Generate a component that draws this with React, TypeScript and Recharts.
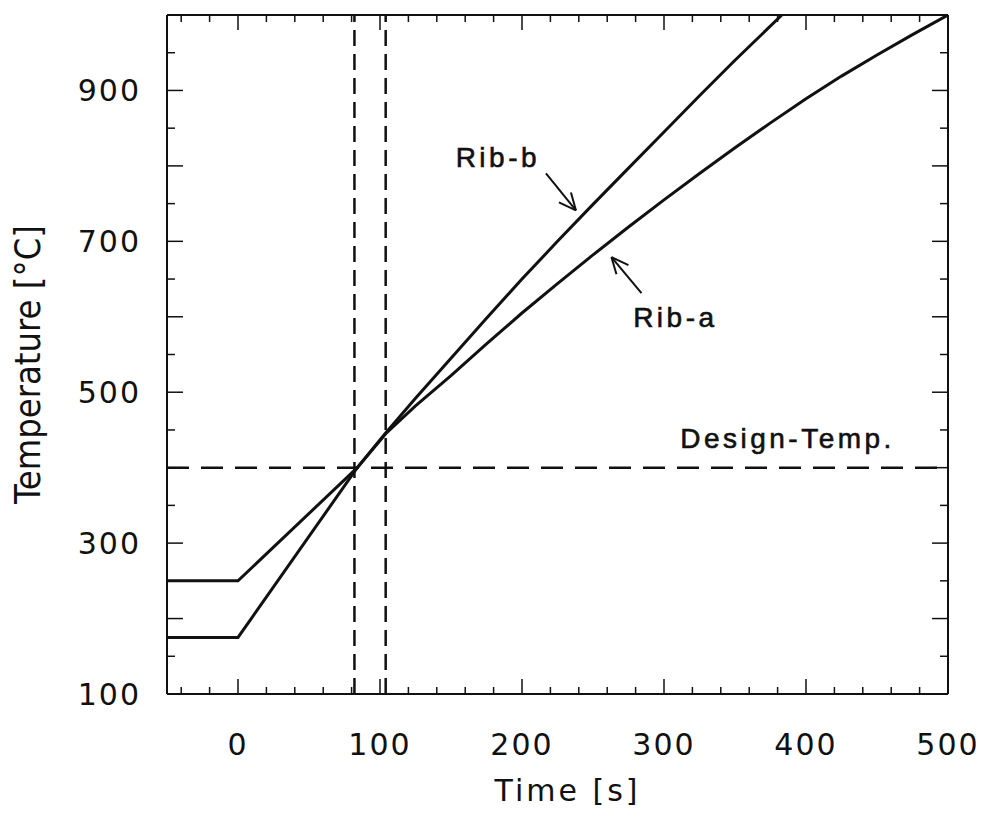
import React from 'react';
import { LineChart, Line, XAxis, YAxis, ReferenceLine, ReferenceDot } from 'recharts';

// ---- data ----
const ribATimes = [-50, 0, 84, 104, 125, 150, 175, 200, 225, 250, 275, 300, 325, 350, 375, 400, 425, 450, 475, 500];
const ribATemps = [250, 250, 400, 445, 482, 522, 564, 605, 644, 682, 719, 755, 790, 824, 857, 889, 919, 947, 974, 1000];
const ribBTimes = [-50, 0, 84, 104, 125, 150, 175, 200, 225, 250, 275, 300, 325, 350, 383];
const ribBTemps = [175, 175, 400, 446, 492, 545, 598, 650, 700, 749, 797, 845, 893, 940, 1000];

const designTemp = 400;
const markerTimes = [82, 104];

const xTicks = [-40, -20, 0, 20, 40, 60, 80, 100, 120, 140, 160, 180, 200, 220, 240, 260, 280, 300, 320, 340, 360, 380, 400, 420, 440, 460, 480, 500];
const xLabelTicks = [0, 100, 200, 300, 400, 500];
const yTicks = [100, 150, 200, 250, 300, 350, 400, 450, 500, 550, 600, 650, 700, 750, 800, 850, 900, 950, 1000];
const yLabelTicks = [100, 300, 500, 700, 900];

const ribA = ribATimes.map((t, i) => ({ t, T: ribATemps[i] }));
const ribB = ribBTimes.map((t, i) => ({ t, T: ribBTemps[i] }));

// annotation anchors (in data units)
const textNotes = [
  { text: 'Rib-b', t: 183, T: 811 },
  { text: 'Rib-a', t: 308, T: 599 },
  { text: 'Design-Temp.', t: 387, T: 439 },
];
const arrowNotes = [
  { t: 238, T: 741, tail: [-30, -37], b1: [-5, -18], b2: [-17, -8] },
  { t: 263, T: 679, tail: [30, 36], b1: [17, 8], b2: [5, 17] },
];

const TICK_FONT = "'DejaVu Sans', sans-serif";
const INK = '#111';

const BottomTick = (props: any) => {
  const { x, y, payload } = props;
  const v = payload.value;
  const major = v % 100 === 0;
  return (
    <g>
      <line x1={x} y1={y} x2={x} y2={y - (major ? 15 : 7)} stroke={INK} strokeWidth={1.5} />
      {xLabelTicks.includes(v) && (
        <text x={x} y={y + 50} textAnchor="middle" dominantBaseline="central" fontFamily={TICK_FONT} fontSize={30} letterSpacing={2} fill={INK}>
          {v}
        </text>
      )}
    </g>
  );
};

const TopTick = (props: any) => {
  const { x, y, payload } = props;
  const major = payload.value % 100 === 0;
  return <line x1={x} y1={y} x2={x} y2={y + (major ? 15 : 7)} stroke={INK} strokeWidth={1.5} />;
};

const LeftTick = (props: any) => {
  const { x, y, payload } = props;
  const v = payload.value;
  const major = v % 100 === 0;
  return (
    <g>
      <line x1={x} y1={y} x2={x + (major ? 16 : 8)} y2={y} stroke={INK} strokeWidth={1.5} />
      {yLabelTicks.includes(v) && (
        <text x={x - 26} y={y} textAnchor="end" dominantBaseline="central" fontFamily={TICK_FONT} fontSize={30} letterSpacing={2} fill={INK}>
          {v}
        </text>
      )}
    </g>
  );
};

const RightTick = (props: any) => {
  const { x, y, payload } = props;
  const major = payload.value % 100 === 0;
  return <line x1={x} y1={y} x2={x - (major ? 16 : 8)} y2={y} stroke={INK} strokeWidth={1.5} />;
};

const XTitle = (props: any) => {
  const vb = props.viewBox || {};
  return (
    <text x={vb.x + vb.width / 2 + 10} y={vb.y + 96} textAnchor="middle" dominantBaseline="central" fontFamily={TICK_FONT} fontSize={30} letterSpacing={3} fill={INK}>
      Time [s]
    </text>
  );
};

const YTitle = (props: any) => {
  const vb = props.viewBox || {};
  const cx = 27;
  const cy = vb.y + vb.height / 2 + 10;
  return (
    <text x={cx} y={cy} transform={`rotate(-90 ${cx} ${cy})`} textAnchor="middle" dominantBaseline="central" fontFamily="'Liberation Sans Narrow', 'DejaVu Sans Condensed', sans-serif" fontSize={36} fill={INK}>
      Temperature [°C]
    </text>
  );
};

export default function App() {
  return (
    <div style={{ position: 'absolute', left: 0, top: 0, background: '#fff' }}>
      <LineChart width={987} height={819} margin={{ top: 0, right: 0, bottom: 0, left: 0 }}>
        <XAxis
          xAxisId="main"
          type="number"
          dataKey="t"
          domain={[-50, 500]}
          ticks={xTicks}
          interval={0}
          allowDataOverflow
          height={125}
          tickSize={0}
          tickMargin={0}
          tickLine={false}
          axisLine={{ stroke: INK, strokeWidth: 2 }}
          tick={<BottomTick />}
          label={<XTitle />}
        />
        <XAxis
          xAxisId="top"
          orientation="top"
          type="number"
          dataKey="t"
          domain={[-50, 500]}
          ticks={xTicks}
          interval={0}
          allowDataOverflow
          height={15}
          tickSize={0}
          tickMargin={0}
          tickLine={false}
          axisLine={{ stroke: INK, strokeWidth: 2 }}
          tick={<TopTick />}
        />
        <YAxis
          yAxisId="main"
          type="number"
          domain={[100, 1000]}
          ticks={yTicks}
          interval={0}
          allowDataOverflow
          width={167}
          tickSize={0}
          tickMargin={0}
          tickLine={false}
          axisLine={{ stroke: INK, strokeWidth: 2 }}
          tick={<LeftTick />}
          label={<YTitle />}
        />
        <YAxis
          yAxisId="right"
          orientation="right"
          type="number"
          domain={[100, 1000]}
          ticks={yTicks}
          interval={0}
          allowDataOverflow
          width={39}
          tickSize={0}
          tickMargin={0}
          tickLine={false}
          axisLine={{ stroke: INK, strokeWidth: 2 }}
          tick={<RightTick />}
        />

        <ReferenceLine xAxisId="main" yAxisId="main" y={designTemp} stroke={INK} strokeWidth={2.5} strokeDasharray="22 12" />
        {markerTimes.map((m) => (
          <ReferenceLine key={m} xAxisId="main" yAxisId="main" x={m} stroke={INK} strokeWidth={2.5} strokeDasharray="16 8" />
        ))}

        <Line xAxisId="main" yAxisId="main" data={ribA} dataKey="T" type="linear" stroke={INK} strokeWidth={3} dot={false} isAnimationActive={false} />
        <Line xAxisId="main" yAxisId="main" data={ribB} dataKey="T" type="linear" stroke={INK} strokeWidth={3} dot={false} isAnimationActive={false} />

        {textNotes.map((n) => (
          <ReferenceDot
            key={n.text}
            xAxisId="main"
            yAxisId="main"
            x={n.t}
            y={n.T}
            r={0}
            shape={(p: any) => (
              <text x={p.cx} y={p.cy} textAnchor="middle" dominantBaseline="central" fontFamily="'Liberation Sans', Arial, sans-serif" fontSize={28} letterSpacing={3.5} fill={INK} stroke={INK} strokeWidth={0.6}>
                {n.text}
              </text>
            )}
          />
        ))}
        {arrowNotes.map((a, i) => (
          <ReferenceDot
            key={'arrow' + i}
            xAxisId="main"
            yAxisId="main"
            x={a.t}
            y={a.T}
            r={0}
            shape={(p: any) => (
              <g stroke={INK} strokeWidth={2} fill="none">
                <line x1={p.cx + a.tail[0]} y1={p.cy + a.tail[1]} x2={p.cx} y2={p.cy} />
                <line x1={p.cx + a.b1[0]} y1={p.cy + a.b1[1]} x2={p.cx} y2={p.cy} />
                <line x1={p.cx + a.b2[0]} y1={p.cy + a.b2[1]} x2={p.cx} y2={p.cy} />
              </g>
            )}
          />
        ))}
      </LineChart>
    </div>
  );
}
